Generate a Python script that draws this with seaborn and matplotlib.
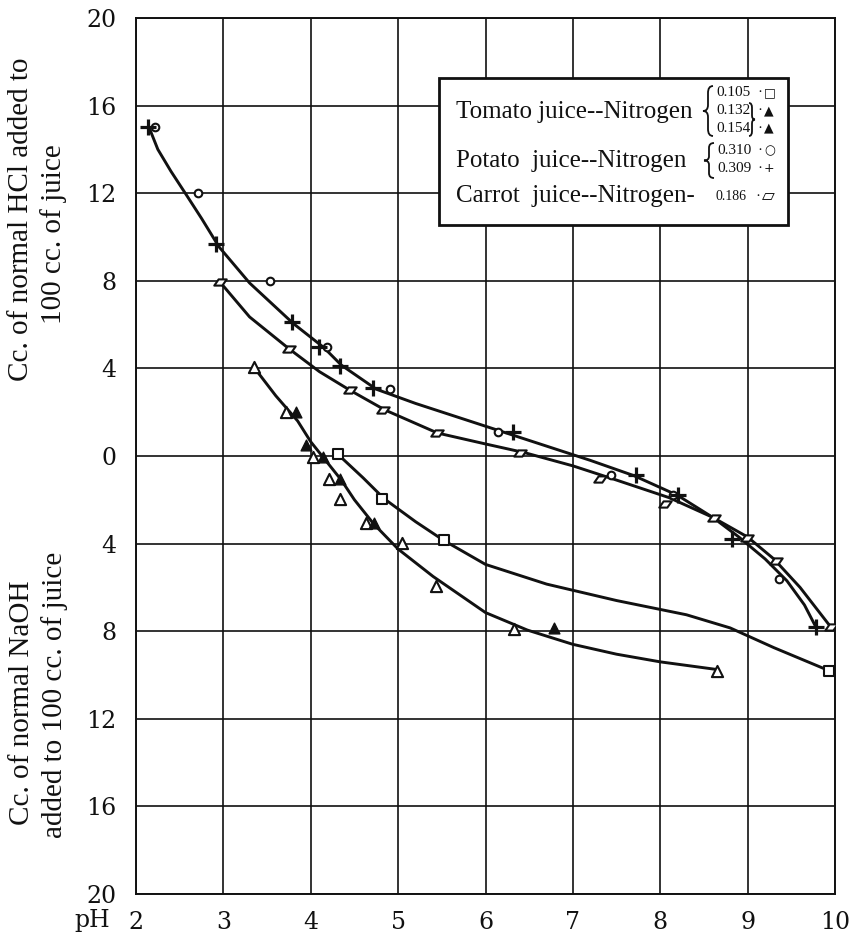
import matplotlib
matplotlib.use("Agg")
import matplotlib.pyplot as plt
import seaborn as sns
import numpy as np
from matplotlib.path import Path
from matplotlib.patches import Rectangle, PathPatch

# ---------------- data ----------------
# Potato juice, N 0.310 (open circles)
potato310_x = [2.22, 2.71, 3.53, 4.19, 4.91, 6.14, 7.44, 8.15, 9.36]
potato310_y = [15.0, 12.0, 8.0, 5.0, 3.05, 1.1, -0.85, -1.8, -5.6]
# Potato juice, N 0.309 (plus)
potato309_x = [2.14, 2.92, 3.79, 4.10, 4.33, 4.71, 6.32, 7.72, 8.20, 8.82, 9.78]
potato309_y = [15.0, 9.7, 6.1, 5.0, 4.1, 3.1, 1.1, -0.85, -1.8, -3.8, -7.8]
# Carrot juice, N 0.186 (parallelograms)
carrot_x = [2.96, 3.75, 4.45, 4.83, 5.44, 6.40, 7.31, 8.06, 8.62, 8.99, 9.32, 9.95]
carrot_y = [7.95, 4.9, 3.0, 2.1, 1.05, 0.15, -1.05, -2.2, -2.85, -3.75, -4.8, -7.8]
# Tomato juice, N 0.105 (open squares)
tomato105_x = [4.31, 4.82, 5.52, 9.93]
tomato105_y = [0.08, -1.95, -3.85, -9.8]
# Tomato juice, N 0.132 (open triangles)
tomato132_x = [3.35, 3.72, 4.03, 4.21, 4.33, 4.63, 5.05, 5.43, 6.33, 8.65]
tomato132_y = [4.05, 2.0, -0.05, -1.03, -1.95, -3.05, -3.95, -5.95, -7.9, -9.8]
# Tomato juice, N 0.154 (filled triangles)
tomato154_x = [3.83, 3.94, 4.14, 4.33, 4.72, 6.78]
tomato154_y = [2.0, 0.5, -0.05, -1.03, -3.05, -7.85]

# smooth curves drawn through the points
potato_curve_x = [2.15, 2.25, 2.4, 2.58, 2.75, 2.95, 3.3, 3.8, 4.15, 4.35, 4.75, 5.2,
                  5.7, 6.2, 6.7, 7.2, 7.7, 8.2, 8.6, 8.9, 9.2, 9.45, 9.65, 9.78]
potato_curve_y = [15.0, 14.0, 13.0, 11.9, 10.85, 9.55, 7.9, 6.05, 4.95, 4.15, 3.05,
                  2.4, 1.75, 1.1, 0.45, -0.2, -0.9, -1.8, -2.8, -3.7, -4.7, -5.7,
                  -6.8, -7.8]
carrot_curve_x = [2.96, 3.3, 3.75, 4.1, 4.45, 4.85, 5.45, 6.0, 6.45, 7.0, 7.5, 8.1,
                  8.6, 9.0, 9.3, 9.6, 9.95]
carrot_curve_y = [7.95, 6.35, 4.9, 3.85, 3.0, 2.1, 1.05, 0.55, 0.15, -0.45, -1.1, -1.9,
                  -2.8, -3.7, -4.7, -6.0, -7.8]
triangle_curve_x = [3.35, 3.6, 3.85, 4.0, 4.15, 4.35, 4.5, 4.72, 5.0, 5.4, 6.0, 6.48,
                    7.0, 7.5, 8.0, 8.65]
triangle_curve_y = [4.05, 2.75, 1.6, 0.65, -0.1, -1.1, -2.0, -3.1, -4.25, -5.5, -7.15,
                    -7.95, -8.6, -9.05, -9.4, -9.75]
square_curve_x = [4.31, 4.6, 4.84, 5.2, 5.52, 6.0, 6.7, 7.5, 8.3, 8.8, 9.3, 9.93]
square_curve_y = [0.08, -1.0, -1.95, -3.0, -3.85, -4.95, -5.85, -6.6, -7.25, -7.85,
                  -8.75, -9.8]

x_ticks = [2, 3, 4, 5, 6, 7, 8, 9, 10]
y_ticks = [-20, -16, -12, -8, -4, 0, 4, 8, 12, 16, 20]
y_tick_labels = ["20", "16", "12", "8", "4", "0", "4", "8", "12", "16", "20"]

tomato_label = "Tomato juice--Nitrogen"
tomato_values = ["0.105", "0.132", "0.154"]
tomato_symbols = ["□", "▲", "▲"]
potato_label = "Potato  juice--Nitrogen"
potato_values = ["0.310", "0.309"]
potato_symbols = ["○", "+"]
carrot_label = "Carrot  juice--Nitrogen-"
carrot_value = "0.186"
carrot_symbol = "▱"

# ---------------- figure ----------------
sns.set_theme(style="white")
plt.rcParams["font.family"] = ["Liberation Serif", "DejaVu Serif", "DejaVu Sans"]

W, H = 850, 938
fig = plt.figure(figsize=(W / 100, H / 100), dpi=100)
L, R, T, B = 136, 835, 18, 894
ax = fig.add_axes([L / W, 1 - B / H, (R - L) / W, (B - T) / H])
ax.set_facecolor("white")

ink = "#111111"
curve_kw = dict(color=ink, linewidth=2.1, sort=False, estimator=None, legend=False)
for cx, cy in [(potato_curve_x, potato_curve_y), (carrot_curve_x, carrot_curve_y),
               (triangle_curve_x, triangle_curve_y), (square_curve_x, square_curve_y)]:
    sns.lineplot(x=cx, y=cy, ax=ax, zorder=3, **curve_kw)

para = Path([(-1.0, -0.5), (0.3, -0.5), (1.0, 0.5), (-0.3, 0.5), (-1.0, -0.5)],
            [Path.MOVETO, Path.LINETO, Path.LINETO, Path.LINETO, Path.CLOSEPOLY])

open_kw = dict(facecolor="white", edgecolor=ink, linewidth=1.5, zorder=4, legend=False)
sns.scatterplot(x=potato310_x, y=potato310_y, marker="o", s=30, ax=ax, **open_kw)
sns.scatterplot(x=tomato105_x, y=tomato105_y, marker="s", s=60, ax=ax, **open_kw)
sns.scatterplot(x=tomato132_x, y=tomato132_y, marker="^", s=65, ax=ax, **open_kw)
sns.scatterplot(x=carrot_x, y=carrot_y, marker=para, s=80, ax=ax, **open_kw)
sns.scatterplot(x=tomato154_x, y=tomato154_y, marker="^", s=60, color=ink,
                edgecolor=ink, linewidth=1.0, zorder=4, ax=ax, legend=False)
sns.scatterplot(x=potato309_x, y=potato309_y, marker="+", s=130, color=ink,
                linewidth=2.3, zorder=4, ax=ax, legend=False)

ax.set_xlim(2, 10)
ax.set_ylim(-20, 20)
ax.set_xticks(x_ticks)
ax.set_xticklabels([str(v) for v in x_ticks], family="DejaVu Serif", fontsize=17)
ax.set_yticks(y_ticks)
ax.set_yticklabels(y_tick_labels, family="DejaVu Serif", fontsize=17)
ax.tick_params(axis="both", length=0, colors=ink)
ax.tick_params(axis="y", pad=14)
ax.tick_params(axis="x", pad=12)
ax.grid(True, color=ink, linewidth=1.2)
ax.set_axisbelow(True)
for sp in ax.spines.values():
    sp.set_visible(True)
    sp.set_color(ink)
    sp.set_linewidth(1.4)
ax.set_xlabel("")
ax.set_ylabel("")


def fx(px):
    return px / W


def fy(py):
    return 1 - py / H


def brace(x, yt, yb, w, closing=False, lw=1.3):
    """Curly brace decoration in figure pixel coordinates."""
    ym = (yt + yb) / 2.0
    h = yb - yt
    xm = x + w / 2.0
    tip, ends = (x, x + w) if not closing else (x + w, x)
    pts = [(ends, yt), (xm, yt), (xm, yt + h * 0.14),
           (xm, ym - h * 0.12),
           (xm, ym), (tip, ym),
           (xm, ym), (xm, ym + h * 0.12),
           (xm, yb - h * 0.14),
           (xm, yb), (ends, yb)]
    codes = [Path.MOVETO, Path.CURVE3, Path.CURVE3, Path.LINETO,
             Path.CURVE3, Path.CURVE3, Path.CURVE3, Path.CURVE3,
             Path.LINETO, Path.CURVE3, Path.CURVE3]
    verts = [(fx(px), fy(py)) for px, py in pts]
    fig.patches.append(PathPatch(Path(verts, codes), transform=fig.transFigure,
                                 facecolor="none", edgecolor=ink, linewidth=lw,
                                 zorder=7))


# x-axis "pH" label
fig.text(fx(92), fy(920), "pH", family="DejaVu Serif", fontsize=17, color=ink,
         ha="center", va="center")

# y-axis labels (two blocks)
ylab_kw = dict(rotation=90, ha="center", va="center", fontsize=21, color=ink)
fig.text(fx(21), fy(219), "Cc. of normal HCl added to", **ylab_kw)
fig.text(fx(54), fy(234), "100 cc. of juice", **ylab_kw)
fig.text(fx(22), fy(703), "Cc. of normal NaOH", **ylab_kw)
fig.text(fx(55), fy(695), "added to 100 cc. of juice", **ylab_kw)

# legend box
fig.patches.append(Rectangle((fx(439), fy(225)), fx(788) - fx(439), fy(78) - fy(225),
                             transform=fig.transFigure, facecolor="white",
                             edgecolor=ink, linewidth=2.0, zorder=5))
lab_kw = dict(fontsize=18, color=ink, ha="left", va="center", zorder=6)
small_kw = dict(fontsize=11, color=ink, ha="left", va="center", zorder=6)
sym_kw = dict(fontsize=9, color=ink, ha="left", va="center", zorder=6,
              family=["DejaVu Sans"])

# tomato
fig.text(fx(456), fy(112), tomato_label, **lab_kw)
brace(703, 86, 136, 10)
for v, s, sy in zip(tomato_values, tomato_symbols, [93, 111, 128]):
    fig.text(fx(716), fy(sy), v, **small_kw)
    fig.text(fx(757), fy(sy), "·", **small_kw)
    fig.text(fx(764), fy(sy), s, **sym_kw)
brace(749, 103, 136, 6, closing=True)

# potato
fig.text(fx(456), fy(161), potato_label, **lab_kw)
brace(704, 143, 178, 10)
for v, s, sy in zip(potato_values, potato_symbols, [151, 168]):
    fig.text(fx(717), fy(sy), v, **small_kw)
    fig.text(fx(757), fy(sy), "·", **small_kw)
    fig.text(fx(764), fy(sy), s, **sym_kw)

# carrot
fig.text(fx(456), fy(196), carrot_label, **lab_kw)
fig.text(fx(716), fy(197), carrot_value, fontsize=10, color=ink, ha="left",
         va="center", zorder=6)
fig.text(fx(755), fy(196), "·", **small_kw)
fig.text(fx(762), fy(196), carrot_symbol, fontsize=12, color=ink, ha="left",
         va="center", zorder=6, family=["DejaVu Sans"])

fig.savefig("out.png", dpi=100, facecolor="white")
